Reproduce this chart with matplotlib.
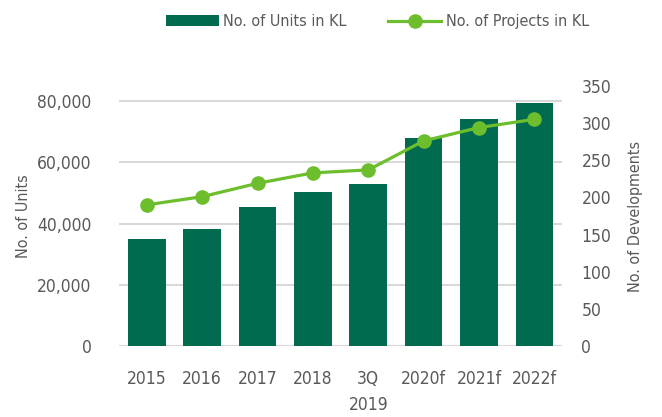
import matplotlib
matplotlib.use("Agg")
import matplotlib.pyplot as plt
from matplotlib.ticker import FuncFormatter

plt.rcParams['font.family'] = ['DejaVu Sans']
plt.rcParams['font.stretch'] = 'condensed'

categories = ['2015', '2016', '2017', '2018', '3Q\n2019', '2020f', '2021f', '2022f']
units = [35000, 38400, 45300, 50500, 53100, 68000, 74200, 79400]
projects = [190, 201, 219, 233, 237, 276, 294, 305]

bar_color = '#006B4F'
line_color = '#6DBE2D'
text_color = '#595959'
grid_color = '#D9D9D9'

fig = plt.figure(figsize=(6.62, 4.17), dpi=100)
ax = fig.add_axes([0.18, 0.170, 0.669, 0.624])
ax2 = ax.twinx()

x = range(len(categories))
bars = ax.bar(x, units, width=0.68, color=bar_color, zorder=2, label='No. of Units in KL')
line, = ax2.plot(x, projects, color=line_color, lw=2.3, marker='o', ms=9.5,
                 zorder=3, label='No. of Projects in KL')

ax.set_xlim(-0.5, len(categories) - 0.5)
ax.set_ylim(0, 85000)
ax.set_yticks([0, 20000, 40000, 60000, 80000])
ax.yaxis.set_major_formatter(FuncFormatter(lambda v, p: f'{int(v):,}'))
ax2.set_ylim(0, 350)
ax2.set_yticks(range(0, 351, 50))

ax.grid(axis='y', color=grid_color, lw=1.5, zorder=0)
ax.set_axisbelow(True)
for a in (ax, ax2):
    for s in a.spines.values():
        s.set_visible(False)
    a.tick_params(length=0, colors=text_color, labelsize=12.5)
ax.tick_params(axis='y', pad=20)
ax2.tick_params(axis='y', pad=14)
ax.tick_params(axis='x', pad=17)

ax.set_xticks(list(x))
ax.set_xticklabels(categories, linespacing=1.6)

ax.set_ylabel('No. of Units', color=text_color, fontsize=11.5, labelpad=4)
ax2.set_ylabel('No. of Developments', color=text_color, fontsize=11.5, labelpad=12)

fig.legend(handles=[bars, line], loc='center', bbox_to_anchor=(0.57, 0.948), ncol=2,
           frameon=False, fontsize=11.5, labelcolor=text_color, handlelength=3.3,
           columnspacing=2.6, handletextpad=0.3)

fig.savefig('out.png', dpi=100)
